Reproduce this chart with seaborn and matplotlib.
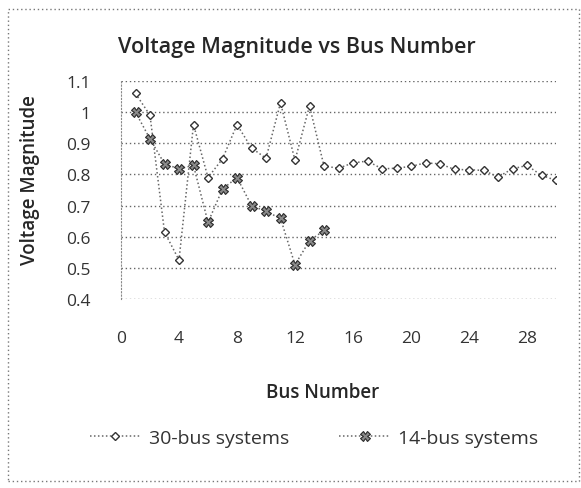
import numpy as np
import pandas as pd
import seaborn as sns
import matplotlib.pyplot as plt
from matplotlib.patches import Rectangle

# values
bus30 = list(range(1, 31))
v30 = [1.06, 0.99, 0.615, 0.525, 0.96, 0.79, 0.85, 0.96, 0.885, 0.852,
       1.03, 0.845, 1.02, 0.827, 0.82, 0.837, 0.843, 0.818, 0.82, 0.826,
       0.837, 0.834, 0.816, 0.815, 0.813, 0.792, 0.818, 0.829, 0.797, 0.781]
bus14 = list(range(1, 15))
v14 = [1.0, 0.914, 0.834, 0.818, 0.829, 0.646, 0.753, 0.79, 0.70, 0.681,
       0.659, 0.51, 0.587, 0.62]
yticks = [0.4, 0.5, 0.6, 0.7, 0.8, 0.9, 1.0, 1.1]
ytick_labels = ["0.4", "0.5", "0.6", "0.7", "0.8", "0.9", "1", "1.1"]
xticks = [0, 4, 8, 12, 16, 20, 24, 28]

df30 = pd.DataFrame({"bus": bus30, "v": v30})
df14 = pd.DataFrame({"bus": bus14, "v": v14})

sns.set_style("white")
plt.rcParams['font.family'] = ['Open Sans', 'DejaVu Sans']

fig = plt.figure(figsize=(5.81, 4.89), dpi=100)
ax = fig.add_axes([121/581, 1 - 300/489, 435/581, 218/489])

ink = "#262626"
dots = (0, (1, 1.6))
sns.lineplot(data=df30, x="bus", y="v", ax=ax, color="#666666", linestyle=dots,
             linewidth=1.1, marker="D", markersize=4, markerfacecolor="white",
             markeredgecolor="#333333", markeredgewidth=1, label="30-bus systems")
sns.lineplot(data=df14, x="bus", y="v", ax=ax, color="#666666", linestyle=dots,
             linewidth=1.1, marker="X", markersize=7, markerfacecolor="#8a8a8a",
             markeredgecolor="#2a2a2a", markeredgewidth=0.8, label="14-bus systems")

ax.set_xlim(0, 30)
ax.set_ylim(0.4, 1.1)
ax.set_xticks(xticks)
ax.set_yticks(yticks)
ax.set_yticklabels(ytick_labels)
ax.tick_params(length=0, labelsize=12.5, labelcolor="#333333")
ax.tick_params(axis="x", pad=22)
ax.tick_params(axis="y", pad=22)
ax.yaxis.grid(True, linestyle=(0, (1, 2)), color="#666666", linewidth=1)
ax.xaxis.grid(False)
for s in ["top", "right", "bottom"]:
    ax.spines[s].set_visible(False)
ax.spines["left"].set_linestyle((0, (1, 2)))
ax.spines["left"].set_color("#888888")
ax.set_xlabel("")
ax.set_ylabel("")

fig.text(297/581, 1 - 47/489, "Voltage Magnitude vs Bus Number", ha="center", va="center",
         fontsize=15.5, fontweight="semibold", color=ink)
fig.text(323/581, 1 - 393/489, "Bus Number", ha="center", va="center",
         fontsize=13.5, fontweight="semibold", color=ink)
fig.text(30/581, 1 - 180/489, "Voltage Magnitude", ha="center", va="center",
         rotation=90, fontsize=13.5, fontweight="semibold", color=ink)

handles, labels = ax.get_legend_handles_labels()
ax.legend_.remove()
fig.legend(handles, labels, loc="center", bbox_to_anchor=(314/581, 1 - 439/489),
           ncol=2, frameon=False, fontsize=14, handlelength=2.6, handletextpad=0.4,
           columnspacing=2.6, labelcolor="#333333")

fig.patches.append(Rectangle((8/581, 1 - 482/489), 571/581, 472/489, transform=fig.transFigure,
                             fill=False, linestyle=(0, (1, 2)), edgecolor="#777777", linewidth=1))

fig.savefig("out.png", dpi=100)
